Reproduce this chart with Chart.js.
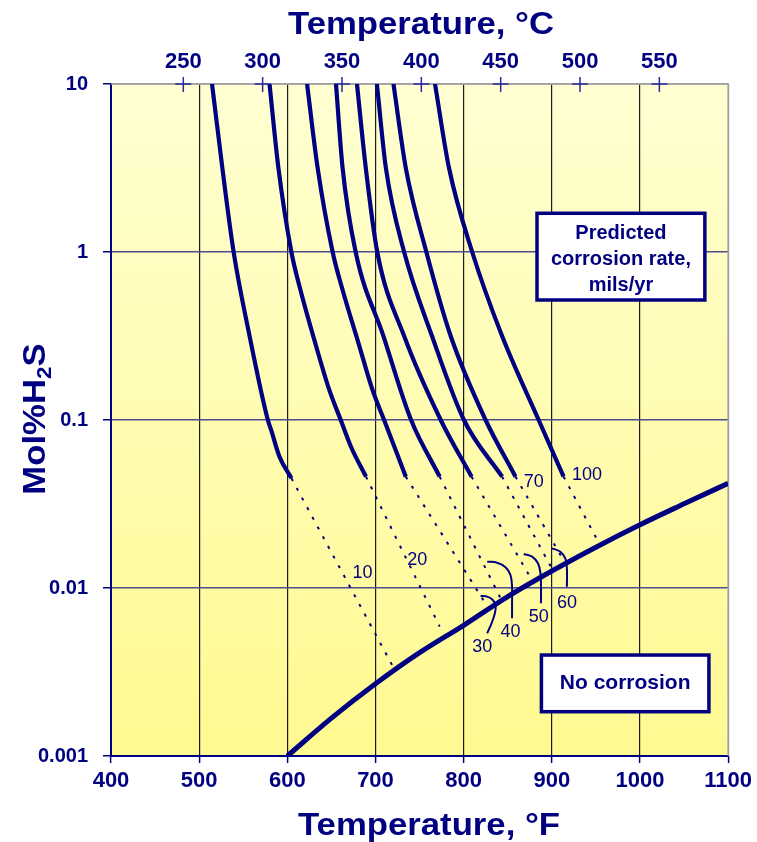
<!DOCTYPE html>
<html>
<head>
<meta charset="utf-8">
<script src="https://cdn.jsdelivr.net/npm/chart.js@4.4.1/dist/chart.umd.min.js"></script>
<style>
html,body{margin:0;padding:0;background:#fff;}
#wrap{width:757px;height:842px;position:relative;}
</style>
</head>
<body>
<div id="wrap"><canvas id="c"></canvas></div>
<script>
// ---------- data ----------
const xTickValues = [400, 500, 600, 700, 800, 900, 1000, 1100];
const xTickLabels = ['400', '500', '600', '700', '800', '900', '1000', '1100'];
const celsiusTicks = [250, 300, 350, 400, 450, 500, 550];
const celsiusLabels = ['250', '300', '350', '400', '450', '500', '550'];
const yTickValues = [0.001, 0.01, 0.1, 1, 10];
const yTickLabels = ['0.001', '0.01', '0.1', '1', '10'];

const rates = ['10', '20', '30', '40', '50', '60', '70', '100'];

// no-corrosion boundary
const boundaryTempF = [600, 650, 700, 750, 800, 850, 900, 950, 1000, 1050, 1100];
const boundaryMol = [0.001, 0.00168, 0.00269, 0.00412, 0.0060, 0.00889, 0.01262, 0.0175, 0.0238, 0.0317, 0.042];

// solid iso-corrosion curves
const rate10TempF = [514.6, 526.3, 539.1, 557.2, 577.9, 581.7, 591.1, 604.7];
const rate10Mol = [10, 3.16, 1, 0.316, 0.1, 0.087, 0.0605, 0.045];
const rate20TempF = [579.8, 589.9, 604.6, 614.9, 630.7, 647.6, 660.6, 672.2, 689.2];
const rate20Mol = [10, 3.16, 1, 0.594, 0.299, 0.151, 0.1, 0.0693, 0.046];
const rate30TempF = [622.4, 634.4, 651.4, 662.7, 679.7, 696.6, 709.8, 734.4];
const rate30Mol = [10, 3.16, 1, 0.594, 0.299, 0.151, 0.1, 0.046];
const curveMolLevels = [10, 3.16, 1, 0.316, 0.1, 0.046];
const rate40TempF = [655.2, 662.7, 677.5, 709.0, 740.4, 772.8];
const rate50TempF = [679.0, 689.0, 702.0, 732.5, 774.0, 809.0];
const rate60TempF = [701.6, 711.8, 732.5, 764.1, 800.3, 843.6];
const rate70TempF = [720.4, 734.4, 757.7, 785.3, 824.9, 858.8];
const rate100TempF = [767.5, 783.4, 809.7, 843.6, 885.1, 913.4];

// dotted extrapolations to the boundary
const extStartTempF = [604.7, 689.2, 734.4, 772.8, 809.0, 843.6, 858.8, 913.4];
const extStartMol = [0.045, 0.046, 0.046, 0.046, 0.046, 0.046, 0.046, 0.046];
const extEndTempF = [721.2, 772.8, 828.6, 841.8, 879.5, 902.0, 915.3, 953.7];
const extEndMol = [0.0033, 0.0059, 0.0075, 0.0087, 0.0107, 0.0125, 0.0140, 0.0184];

// leader arcs for labels 30..60
const arc30TempF = [819.2, 826.7, 833.1, 836.2, 835.4, 831.6, 826.7];
const arc30Mol = [0.00896, 0.00888, 0.00848, 0.00784, 0.00707, 0.00616, 0.00537];
const arc40TempF = [826.7, 838.0, 847.5, 853.1, 854.9, 854.9, 854.9];
const arc40Mol = [0.01434, 0.01415, 0.01328, 0.01195, 0.01018, 0.00811, 0.0066];
const arc50TempF = [868.2, 877.6, 884.3, 887.1, 887.7, 887.7];
const arc50Mol = [0.01594, 0.01536, 0.01403, 0.01224, 0.01018, 0.00811];
const arc60TempF = [900.2, 909.7, 915.3, 917.1, 917.1];
const arc60Mol = [0.01723, 0.01645, 0.01502, 0.0131, 0.01018];

// rate labels
const labelTempF = [685.3, 747.5, 821.0, 853.1, 885.1, 917.1, 879.5, 939.8];
const labelMol = [0.01224, 0.01468, 0.00447, 0.00549, 0.00675, 0.00811, 0.0429, 0.0471];

// annotation boxes (data units)
const rateBoxTempF = [883.2, 1073.6];
const rateBoxMol = [1.70, 0.518];
const rateBoxLines = ['Predicted', 'corrosion rate,', 'mils/yr'];
const noCorrBoxTempF = [888.2, 1078.2];
const noCorrBoxMol = [0.00399, 0.001835];
const noCorrBoxLines = ['No corrosion'];

// ---------- chart ----------
const FONT = '"Liberation Sans", Arial, Helvetica, sans-serif';
const NAVY = '#000080';
const GRAY = '#a0a0a0';
const toPts = (xs, ys) => xs.map((x, i) => ({x: x, y: ys[i]}));

const curveTemps = [rate10TempF, rate20TempF, rate30TempF, rate40TempF, rate50TempF, rate60TempF, rate70TempF, rate100TempF];
const curveMols = [rate10Mol, rate20Mol, rate30Mol, curveMolLevels, curveMolLevels, curveMolLevels, curveMolLevels, curveMolLevels];

const datasets = [];
datasets.push({
  label: 'No corrosion boundary',
  data: toPts(boundaryTempF, boundaryMol),
  borderColor: NAVY, borderWidth: 5, pointRadius: 0,
  cubicInterpolationMode: 'monotone'
});
curveTemps.forEach((t, i) => {
  datasets.push({
    label: rates[i] + ' mils/yr',
    data: toPts(t, curveMols[i]),
    borderColor: NAVY, borderWidth: 4.2, pointRadius: 0,
    cubicInterpolationMode: 'monotone'
  });
  datasets.push({
    label: rates[i] + ' extrapolated',
    data: [{x: extStartTempF[i], y: extStartMol[i]}, {x: extEndTempF[i], y: extEndMol[i]}],
    borderColor: NAVY, borderWidth: 2, pointRadius: 0,
    borderDash: [3, 8]
  });
});
[[arc30TempF, arc30Mol], [arc40TempF, arc40Mol], [arc50TempF, arc50Mol], [arc60TempF, arc60Mol]].forEach((a, i) => {
  datasets.push({
    label: 'leader ' + rates[i + 2],
    data: toPts(a[0], a[1]),
    borderColor: NAVY, borderWidth: 2, pointRadius: 0, tension: 0.4
  });
});

function stretchedText(ctx, text, x, y, sx, font) {
  ctx.save();
  ctx.font = font;
  ctx.translate(x, y);
  ctx.scale(sx, 1);
  ctx.textAlign = 'center';
  ctx.textBaseline = 'alphabetic';
  ctx.fillText(text, 0, 0);
  ctx.restore();
}

function drawBox(ctx, xs, ys, lines, size, gap, dy, chart) {
  const sx = chart.scales.x, sy = chart.scales.y;
  const l = sx.getPixelForValue(xs[0]), r = sx.getPixelForValue(xs[1]);
  const t = sy.getPixelForValue(ys[0]), b = sy.getPixelForValue(ys[1]);
  ctx.save();
  ctx.fillStyle = '#ffffff';
  ctx.fillRect(l, t, r - l, b - t);
  ctx.strokeStyle = NAVY;
  ctx.lineWidth = 3.5;
  ctx.strokeRect(l, t, r - l, b - t);
  ctx.fillStyle = NAVY;
  ctx.font = 'bold ' + size + 'px ' + FONT;
  ctx.textAlign = 'center';
  ctx.textBaseline = 'middle';
  const cx = (l + r) / 2, cy = (t + b) / 2;
  lines.forEach((s, i) => ctx.fillText(s, cx, cy + (i - (lines.length - 1) / 2) * gap + dy));
  ctx.restore();
}

const deco = {
  id: 'deco',
  beforeDraw(chart) {
    const {ctx, chartArea: a} = chart;
    ctx.save();
    ctx.fillStyle = '#ffffff';
    ctx.fillRect(0, 0, chart.width, chart.height);
    const g = ctx.createLinearGradient(0, a.top, 0, a.bottom);
    g.addColorStop(0, '#ffffd2');
    g.addColorStop(1, '#fff990');
    ctx.fillStyle = g;
    ctx.fillRect(a.left, a.top, a.right - a.left, a.bottom - a.top);
    ctx.restore();
  },
  beforeDatasetsDraw(chart) {
    const {ctx, chartArea: a} = chart;
    ctx.save();
    ctx.strokeStyle = GRAY;
    ctx.lineWidth = 1.5;
    ctx.beginPath();
    ctx.moveTo(a.left, a.top); ctx.lineTo(a.right, a.top); ctx.lineTo(a.right, a.bottom);
    ctx.stroke();
    ctx.restore();
  },
  afterDraw(chart) {
    const {ctx, chartArea: a} = chart;
    const sx = chart.scales.x, sy = chart.scales.y, sc = chart.scales.xC;
    ctx.save();
    // "+" marks of the Celsius axis
    ctx.strokeStyle = '#2a2aa0';
    ctx.lineWidth = 1.5;
    celsiusTicks.forEach(v => {
      const px = sc.getPixelForValue(v);
      ctx.beginPath();
      ctx.moveTo(px, a.top - 7); ctx.lineTo(px, a.top + 8);
      ctx.moveTo(px - 8, a.top); ctx.lineTo(px + 8, a.top);
      ctx.stroke();
    });
    // rate labels
    ctx.fillStyle = NAVY;
    ctx.font = '18px ' + FONT;
    ctx.textAlign = 'center';
    ctx.textBaseline = 'middle';
    rates.forEach((r, i) => {
      ctx.fillText(r, sx.getPixelForValue(labelTempF[i]), sy.getPixelForValue(labelMol[i]));
    });
    ctx.restore();
    // boxes
    drawBox(ctx, rateBoxTempF, rateBoxMol, rateBoxLines, 20, 26, 2.5, chart);
    drawBox(ctx, noCorrBoxTempF, noCorrBoxMol, noCorrBoxLines, 21, 26, 0, chart);
    // titles
    ctx.save();
    ctx.fillStyle = NAVY;
    const tf = 'bold 31px ' + FONT;
    stretchedText(ctx, 'Temperature, \u00B0C', 421, 34, 1.12, tf);
    stretchedText(ctx, 'Temperature, \u00B0F', 429, 835, 1.12, tf);
    // y title with subscript
    ctx.translate(45, 419);
    ctx.rotate(-Math.PI / 2);
    ctx.scale(1.12, 1);
    ctx.textBaseline = 'alphabetic';
    ctx.textAlign = 'left';
    ctx.font = tf;
    const w1 = ctx.measureText('Mol%H').width;
    const w3 = ctx.measureText('S').width;
    ctx.font = 'bold 20px ' + FONT;
    const w2 = ctx.measureText('2').width;
    const start = -(w1 + w2 + w3) / 2;
    ctx.font = tf;
    ctx.fillText('Mol%H', start, 0);
    ctx.font = 'bold 20px ' + FONT;
    ctx.fillText('2', start + w1, 6);
    ctx.font = tf;
    ctx.fillText('S', start + w1 + w2, 0);
    ctx.restore();
  }
};

new Chart(document.getElementById('c'), {
  type: 'line',
  data: {datasets: datasets},
  plugins: [deco],
  options: {
    responsive: true,
    maintainAspectRatio: false,
    devicePixelRatio: 1,
    animation: false,
    layout: {padding: {left: 0, right: 27, top: 0, bottom: 0}},
    plugins: {legend: {display: false}, tooltip: {enabled: false}},
    elements: {line: {fill: false}},
    scales: {
      x: {
        type: 'linear', position: 'bottom', min: 400, max: 1100,
        afterBuildTicks: s => { s.ticks = xTickValues.map(v => ({value: v})); },
        afterFit: s => { s.height = 86; },
        ticks: {
          color: NAVY, font: {family: FONT, size: 22, weight: 'bold'}, padding: 5, maxRotation: 0, autoSkip: false,
          callback: (v, i) => xTickLabels[i]
        },
        grid: {
          color: c => (c.tick && c.tick.value === 1100) ? GRAY : '#1a1a1a',
          lineWidth: 1.2, tickColor: NAVY, tickLength: 7, tickWidth: 1.5
        },
        border: {color: NAVY, width: 2}
      },
      xC: {
        type: 'linear', position: 'top', min: (400 - 32) / 1.8, max: (1100 - 32) / 1.8,
        afterBuildTicks: s => { s.ticks = celsiusTicks.map(v => ({value: v})); },
        afterFit: s => { s.height = 84; },
        ticks: {
          color: NAVY, font: {family: FONT, size: 22, weight: 'bold'}, padding: 9, maxRotation: 0, autoSkip: false,
          callback: (v, i) => celsiusLabels[i]
        },
        grid: {display: false, drawTicks: false},
        border: {display: false}
      },
      y: {
        type: 'logarithmic', position: 'left', min: 0.001, max: 10,
        afterBuildTicks: s => { s.ticks = yTickValues.map(v => ({value: v})); },
        afterFit: s => { s.width = 111; },
        ticks: {
          color: NAVY, font: {family: FONT, size: 20, weight: 'bold'}, padding: 15,
          callback: (v, i) => yTickLabels[i]
        },
        grid: {
          color: c => (c.tick && c.tick.value === 10) ? GRAY : '#4d4d8e',
          lineWidth: 1.5, tickColor: NAVY, tickLength: 8, tickWidth: 1.5
        },
        border: {color: NAVY, width: 2}
      }
    }
  }
});
</script>
</body>
</html>
